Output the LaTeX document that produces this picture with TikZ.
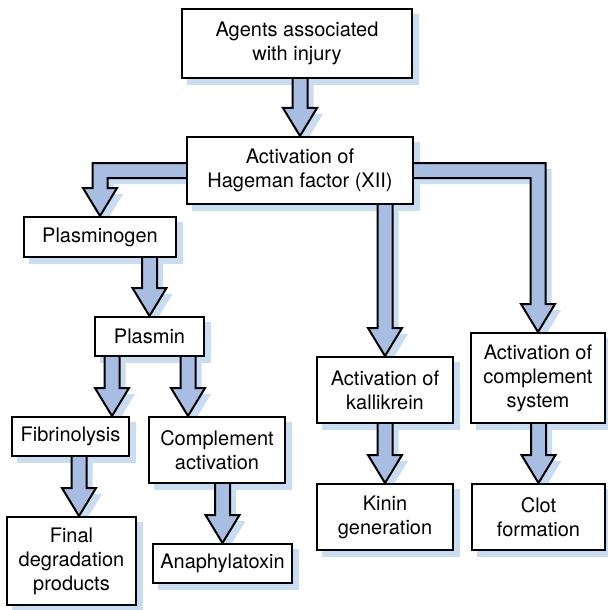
\documentclass[tikz,border=0pt]{standalone}
\usepackage{fontspec}
\setmainfont{TeX Gyre Heros}
\usetikzlibrary{calc}

\definecolor{flowblue}{RGB}{167,190,226}
\definecolor{shadeblue}{RGB}{200,220,242}

\pgfdeclarelayer{shade}
\pgfdeclarelayer{arrows}
\pgfsetlayers{shade,arrows,main}

\def\sw{3.75pt}
\def\hw{8.5pt}
\def\hl{14pt}

\newcommand{\flowpath}[3]{($(#1.south -| #3)+(-\sw,1pt)$) -- ($(#2.north -| #3)+(-\sw,\hl)$) -- ($(#2.north -| #3)+(-\hw,\hl)$) -- (#2.north -| #3) -- ($(#2.north -| #3)+(\hw,\hl)$) -- ($(#2.north -| #3)+(\sw,\hl)$) -- ($(#1.south -| #3)+(\sw,1pt)$) -- cycle}

\newcommand{\elbowpath}[3]{($(#1)+({-(#3)*1pt},\sw)$) -- ($(#1 -| #2.north)+({(#3)*\sw},\sw)$) -- ($(#2.north)+({(#3)*\sw},\hl)$) -- ($(#2.north)+({(#3)*\hw},\hl)$) -- (#2.north) -- ($(#2.north)+({-(#3)*\hw},\hl)$) -- ($(#2.north)+({-(#3)*\sw},\hl)$) -- ($(#1 -| #2.north)+({-(#3)*\sw},-\sw)$) -- ($(#1)+({-(#3)*1pt},-\sw)$) -- cycle}

\newcommand{\flowarrow}[3]{%
  \begin{pgfonlayer}{arrows}
    \begin{scope}[transform canvas={xshift=3pt,yshift=-3pt}]
      \fill[shadeblue] \flowpath{#1}{#2}{#3};
    \end{scope}
    \draw[flow] \flowpath{#1}{#2}{#3};
  \end{pgfonlayer}}

\newcommand{\elbowarrow}[3]{%
  \begin{pgfonlayer}{arrows}
    \begin{scope}[transform canvas={xshift=3pt,yshift=-3pt}]
      \fill[shadeblue] \elbowpath{#1}{#2}{#3};
    \end{scope}
    \draw[flow] \elbowpath{#1}{#2}{#3};
  \end{pgfonlayer}}

\begin{document}
\begin{tikzpicture}[
x=0.5pt, y=-0.5pt,
box/.style={draw, line width=1pt, fill=white, inner sep=0pt, align=center, font=\fontsize{10}{12}\selectfont},
flow/.style={draw, line width=1pt, fill=flowblue, line join=miter}
]
\useasboundingbox (0,0) rectangle (607,610);

\node[box, minimum width=115pt, minimum height=34.5pt] (agents) at (297,43.5) {Agents associated\\with injury};
\node[box, minimum width=113pt, minimum height=33.5pt] (hag) at (300,170.5) {Activation of\\Hageman factor (XII)};
\node[box, minimum width=76pt, minimum height=20pt] (plg) at (100,237) {Plasminogen};
\node[box, minimum width=54.5pt, minimum height=19.5pt] (plasmin) at (149.5,336.5) {Plasmin};
\node[box, minimum width=58.5pt, minimum height=19.5pt] (fib) at (70.5,436.5) {Fibrinolysis};
\node[box, minimum width=68pt, minimum height=33pt] (compl) at (217,450) {Complement\\activation};
\node[box, minimum width=64.5pt, minimum height=44pt] (final) at (71.5,561) {Final\\degradation\\products};
\node[box, minimum width=69.5pt, minimum height=19.5pt] (anaph) at (222.5,563.5) {Anaphylatoxin};
\node[box, minimum width=68pt, minimum height=33pt] (kal) at (385,390) {Activation of\\kallikrein};
\node[box, minimum width=68pt, minimum height=33pt] (kinin) at (385,517) {Kinin\\generation};
\node[box, minimum width=67pt, minimum height=45pt] (cs) at (538,378) {Activation of\\complement\\system};
\node[box, minimum width=66.5pt, minimum height=33pt] (clot) at (538.5,517) {Clot\\formation};

\coordinate (fibx) at (112,0);
\coordinate (cplx) at (188,0);
\coordinate (finx) at (79,0);

% shadows behind the boxes
\begin{pgfonlayer}{shade}
\foreach \n in {agents,hag,plg,plasmin,fib,compl,final,anaph,kal,kinin,cs,clot}
  \fill[shadeblue] ([shift={(3pt,-3pt)}]\n.north west) rectangle ([shift={(3pt,-3pt)}]\n.south east);
\end{pgfonlayer}

\flowarrow{agents}{hag}{hag}
\elbowarrow{hag.west}{plg}{-1}
\elbowarrow{hag.east}{cs}{1}
\flowarrow{hag}{kal}{kal}
\flowarrow{plg}{plasmin}{plasmin}
\flowarrow{plasmin}{fib}{fibx}
\flowarrow{plasmin}{compl}{cplx}
\flowarrow{fib}{final}{finx}
\flowarrow{compl}{anaph}{anaph}
\flowarrow{kal}{kinin}{kinin}
\flowarrow{cs}{clot}{clot}
\end{tikzpicture}
\end{document}
